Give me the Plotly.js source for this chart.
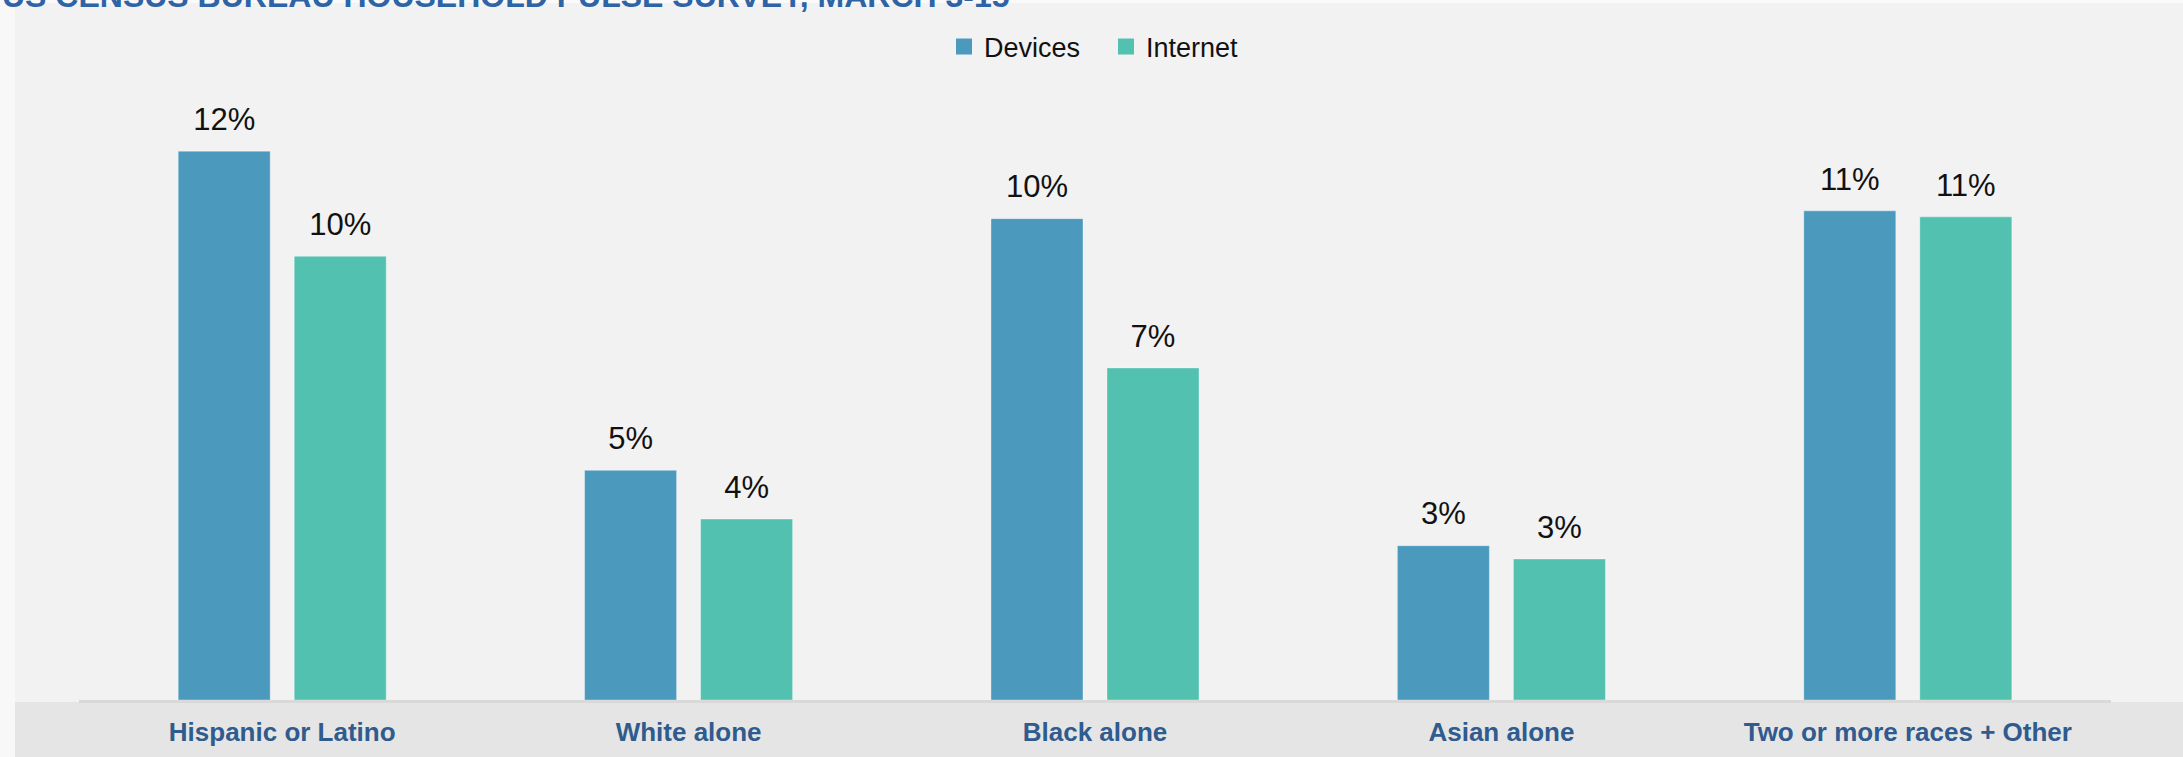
<!DOCTYPE html>
<html>
<head>
<meta charset="utf-8">
<script src="https://cdn.plot.ly/plotly-3.0.1.min.js"></script>
<style>html,body{margin:0;padding:0;background:#f2f2f2;}#chart{width:2183px;height:757px;}</style>
</head>
<body>
<div id="chart"></div>
<script>
// Data (percent of households)
const categories = ["Hispanic or Latino", "White alone", "Black alone", "Asian alone", "Two or more races + Other"];
const seriesNames = ["Devices", "Internet"];
const devices = [11.95, 5.00, 10.48, 3.36, 10.65];
const internet = [9.66, 3.94, 7.23, 3.07, 10.52];
const titleText = "US CENSUS BUREAU HOUSEHOLD PULSE SURVEY, MARCH 3-15";

const colors = ["#4b9abd", "#52c1b0"];
const fontFam = "Liberation Sans, Arial, sans-serif";
const labelFont = {family: fontFam, size: 31, color: "#111111"};
const bargap = 0.429;

const seriesValues = [devices, internet];
const traces = [];
seriesValues.forEach((vals, i) => {
  traces.push({
    type: "bar", name: seriesNames[i], x: categories, y: vals, showlegend: false,
    marker: {color: colors[i], line: {width: 1, color: "rgba(255,255,255,0.35)"}},
    offsetgroup: String(i), hoverinfo: "skip"
  });
});
seriesValues.forEach((vals, i) => {
  traces.push({
    type: "scatter", mode: "markers+text", x: categories, y: vals, showlegend: false,
    offsetgroup: String(i),
    text: vals.map(v => Math.round(v) + "%"),
    textposition: "top center", textfont: labelFont,
    marker: {size: 20, opacity: 0, color: colors[i]}, cliponaxis: false, hoverinfo: "skip"
  });
});
// legend entries (square swatches)
seriesNames.forEach((nm, i) => {
  traces.push({
    type: "scatter", mode: "markers", name: nm, x: [null], y: [null], showlegend: true,
    offsetgroup: String(i),
    marker: {symbol: "square", size: 19, color: colors[i]}, hoverinfo: "skip"
  });
});

const layout = {
  width: 2183, height: 757,
  margin: {l: 79, r: 72, t: 57, b: 57, pad: 0, autoexpand: false},
  paper_bgcolor: "#f2f2f2", plot_bgcolor: "#f2f2f2",
  barmode: "group", bargap: bargap, bargroupgap: 0.207,
  scattermode: "group", scattergap: bargap,
  showlegend: true,
  legend: {orientation: "h", x: 0.5 + 11/2032, xanchor: "center", xref: "paper",
           y: 1 - 47/757, yref: "container", yanchor: "middle",
           font: {family: fontFam, size: 27, color: "#111111"},
           bgcolor: "rgba(0,0,0,0)", traceorder: "normal", itemwidth: 30, entrywidth: 117},
  xaxis: {type: "category", showgrid: false, zeroline: false, showline: true,
          linecolor: "#d9d9d9", linewidth: 3, ticks: "", ticklabelstandoff: 7,
          tickfont: {family: fontFam, size: 26, color: "#2f5b8e", weight: "bold"}},
  yaxis: {range: [0, 14], visible: false, showgrid: false, zeroline: false, fixedrange: true},
  shapes: [
    {type: "rect", xref: "paper", yref: "paper", x0: -79/2032, x1: 1 + 72/2032, y0: -57/643, y1: -2/643,
     fillcolor: "#e5e5e5", line: {width: 0}, layer: "below"},
    {type: "rect", xref: "paper", yref: "paper", x0: -79/2032, x1: -64/2032, y0: -57/643, y1: 1 + 57/643,
     fillcolor: "#f8f8f8", line: {width: 0}, layer: "below"},
    {type: "rect", xref: "paper", yref: "paper", x0: -64/2032, x1: 1 + 72/2032, y0: 1 + 54/643, y1: 1 + 57/643,
     fillcolor: "#fafafa", line: {width: 0}, layer: "below"}
  ],
  annotations: [
    {text: "<b>" + titleText + "</b>", xref: "paper", yref: "paper", x: -79/2032, y: 1, xanchor: "left",
     yanchor: "middle", yshift: 61, showarrow: false,
     font: {family: fontFam, size: 32, color: "#2e63a6"}}
  ]
};

Plotly.newPlot("chart", traces, layout, {displayModeBar: false, staticPlot: true});
</script>
</body>
</html>
